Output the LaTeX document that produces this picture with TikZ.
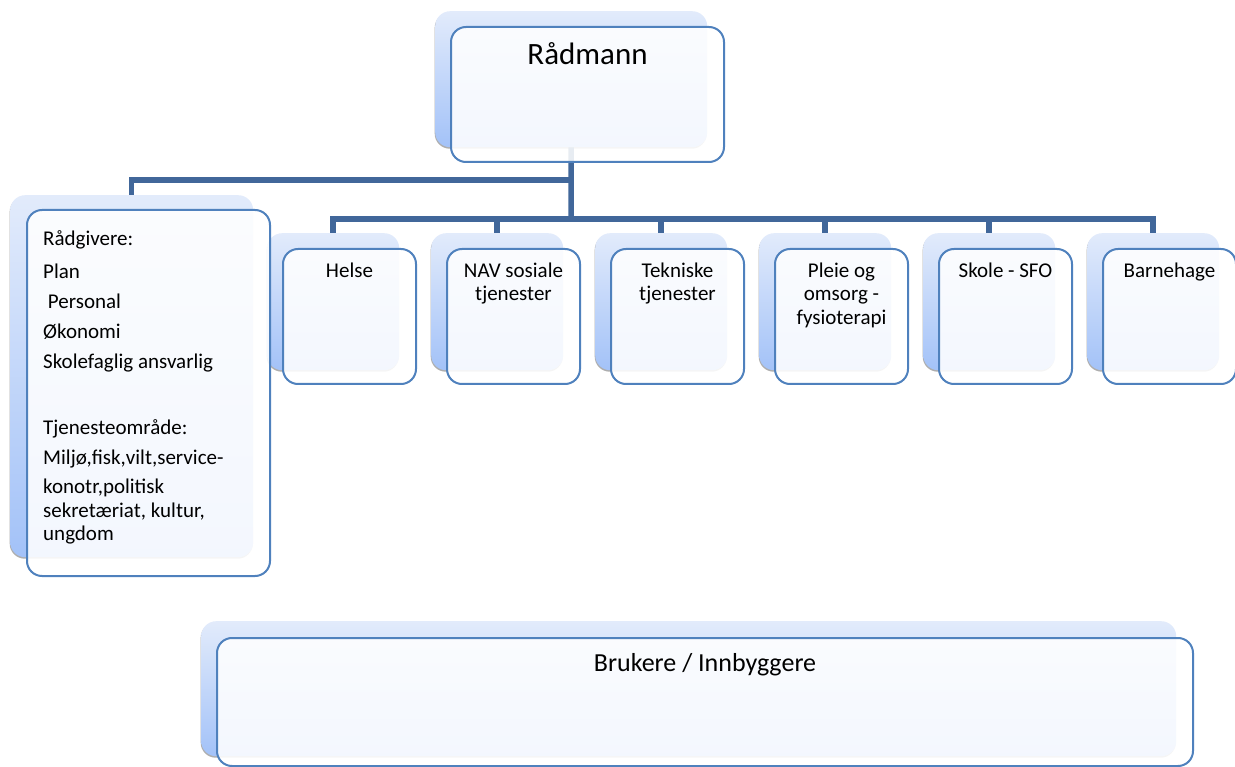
\documentclass[tikz,border=0pt]{standalone}
\usepackage{fontspec}
\setmainfont{Carlito}
\usetikzlibrary{shadows}

\definecolor{bgtop}{HTML}{E2EBFB}
\definecolor{bgbot}{HTML}{A3C2F8}
\definecolor{boxline}{HTML}{4F81BD}
\definecolor{linkblue}{HTML}{41679A}

\begin{document}
\begin{tikzpicture}[
		x=1pt,y=-1pt,
		bgbox/.style={rounded corners=15pt,top color=bgtop,bottom color=bgbot,anchor=north west,inner sep=0,
			drop shadow={shadow xshift=-0.5pt,shadow yshift=-1.5pt,fill=black!70,opacity=0.45}},
		frontbox/.style={draw=boxline,line width=2pt,rounded corners=15pt,fill=white,fill opacity=0.88,anchor=north west,inner sep=0},
		unitbox/.style={frontbox,minimum width=133pt,minimum height=135pt},
		unitbg/.style={bgbox,minimum width=132pt,minimum height=137pt},
		unittext/.style={anchor=north,inner sep=0,align=center,font=\fontsize{21}{23.5}\selectfont},
		link/.style={draw=linkblue,line width=5.5pt}]

		\useasboundingbox (0,0) rectangle (1235,767);

		\coordinate (fork) at (571,180);
		\coordinate (hub) at (571,219);

		% back boxes
		\node[bgbox,minimum width=272pt,minimum height=136pt] (radmann-bg) at (435,11) {};
		\node[bgbox,minimum width=243pt,minimum height=362pt] (radgivere-bg) at (10,195) {};
		\node[unitbg] (helse-bg) at (267,233) {};
		\node[unitbg] (nav-bg) at (431,233) {};
		\node[unitbg] (teknisk-bg) at (595,233) {};
		\node[unitbg] (pleie-bg) at (759,233) {};
		\node[unitbg] (skole-bg) at (923,233) {};
		\node[unitbg] (barnehage-bg) at (1087,233) {};
		\node[bgbox,minimum width=975pt,minimum height=135pt] (brukere-bg) at (201,621) {};

		% connectors
		\draw[link] (radmann-bg.south) -- (hub);
		\draw[link] (fork) -| (radgivere-bg.north);
		\draw[link] (helse-bg.north) -- ++(0,-14) -| (barnehage-bg.north);
		\draw[link] (nav-bg.north) -- ++(0,-14);
		\draw[link] (teknisk-bg.north) -- ++(0,-14);
		\draw[link] (pleie-bg.north) -- ++(0,-14);
		\draw[link] (skole-bg.north) -- ++(0,-14);

		% front boxes
		\node[frontbox,minimum width=273pt,minimum height=135pt] (radmann) at (450,26) {};
		\node[frontbox,minimum width=243pt,minimum height=366pt] (radgivere) at (26,209) {};
		\node[unitbox] (helse) at (282,248) {};
		\node[unitbox] (nav) at (446,248) {};
		\node[unitbox] (teknisk) at (610,248) {};
		\node[unitbox] (pleie) at (774,248) {};
		\node[unitbox] (skole) at (938,248) {};
		\node[unitbox] (barnehage) at (1102,248) {};
		\node[frontbox,minimum width=976pt,minimum height=128pt] (brukere) at (216,637) {};

		% texts
		\node[anchor=north,inner sep=0,font=\fontsize{31}{37}\selectfont] (radmann-t) at ([yshift=-16pt]radmann.north) {Rådmann};
		\node[unittext] (helse-t) at ([yshift=-14.5pt]helse.north) {Helse};
		\node[unittext] (nav-t) at ([yshift=-14.5pt]nav.north) {NAV sosiale\\tjenester};
		\node[unittext] (teknisk-t) at ([yshift=-14.5pt]teknisk.north) {Tekniske\\tjenester};
		\node[unittext] (pleie-t) at ([yshift=-14.5pt]pleie.north) {Pleie og\\omsorg -\\fysioterapi};
		\node[unittext] (skole-t) at ([yshift=-14.5pt]skole.north) {Skole - SFO};
		\node[unittext] (barnehage-t) at ([yshift=-14.5pt]barnehage.north) {Barnehage};
		\node[unittext,anchor=north west,align=left] (radgivere-t) at ([xshift=17pt,yshift=-21.5pt]radgivere.north west)
			{Rådgivere:\\[9.5pt]Plan\\[6.5pt]\ Personal\\[6.5pt]Økonomi\\[6.5pt]Skolefaglig ansvarlig\\[42.5pt]
			Tjenesteområde:\\[6pt]Miljø,fisk,vilt,service-\\[6pt]konotr,politisk\\sekretæriat, kultur,\\ungdom};
		\node[anchor=north,inner sep=0,font=\fontsize{26}{31}\selectfont] (brukere-t) at ([yshift=-16pt]brukere.north) {Brukere / Innbyggere};

\end{tikzpicture}
\end{document}
